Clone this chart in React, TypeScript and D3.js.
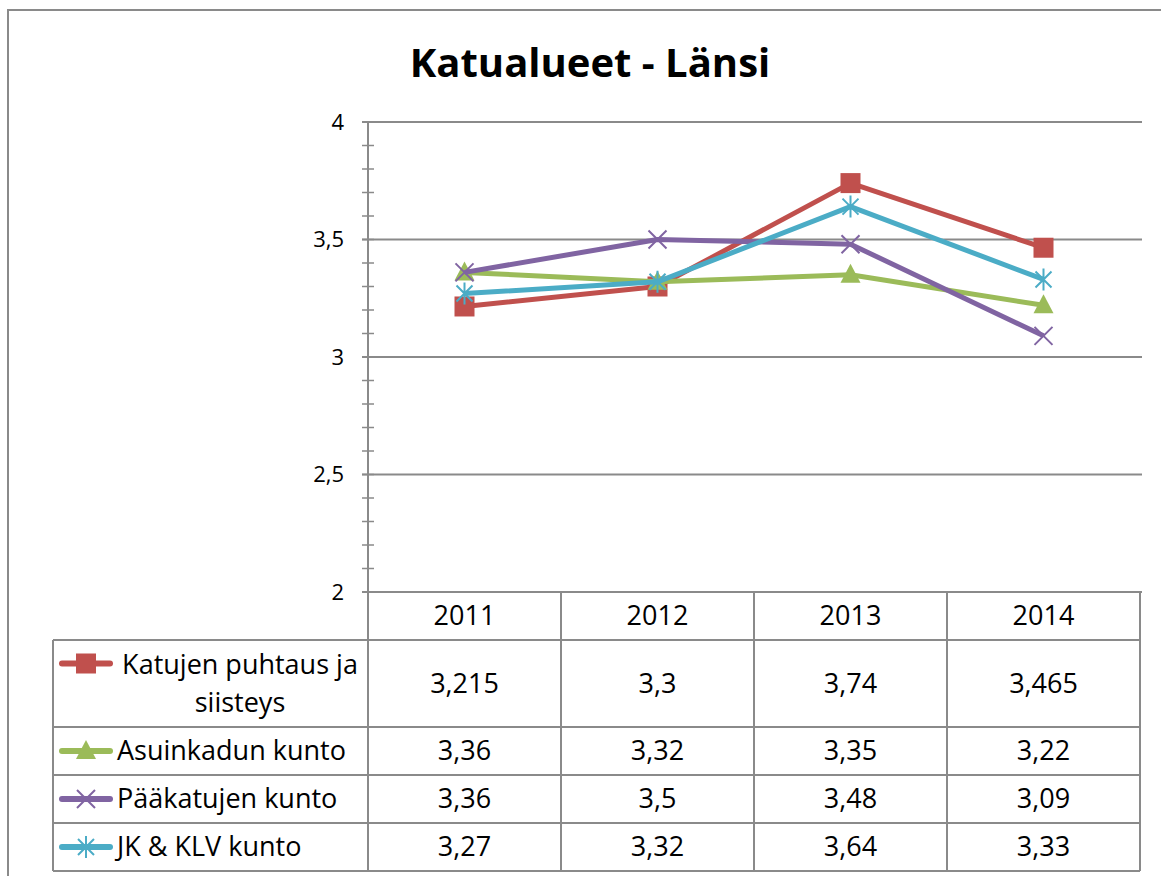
import * as d3 from 'd3';

const years = ['2011', '2012', '2013', '2014'];
const seriesNames = [['Katujen puhtaus ja', 'siisteys'], ['Asuinkadun kunto'], ['Pääkatujen kunto'], ['JK & KLV kunto']];
const puhtaus = [3.215, 3.3, 3.74, 3.465];
const asuinkadut = [3.36, 3.32, 3.35, 3.22];
const paakadut = [3.36, 3.5, 3.48, 3.09];
const jkKlv = [3.27, 3.32, 3.64, 3.33];
const yTicks = [2, 2.5, 3, 3.5, 4];

const colors = ['#C0504D', '#9BBB59', '#8064A2', '#4BACC6'];
const markers = ['square', 'triangle', 'x', 'star'];
const allSeries = [puhtaus, asuinkadut, paakadut, jkKlv];

const W = 1161, H = 876;
const plot = { left: 368, right: 1140, top: 122, bottom: 592 };
const tableLeft = 53;
const rowEdges = [592, 640, 727, 775, 823, 871];
const gridColor = '#8a8a8a';
const font = '"Open Sans", sans-serif';
const tableFont = 27;

const x = d3.scalePoint<string>().domain(years).range([plot.left, plot.right]).padding(0.5);
const y = d3.scaleLinear().domain([2, 4]).range([plot.bottom, plot.top]);
const bandW = (plot.right - plot.left) / years.length;

const fmt = (v: number) => String(v).replace('.', ',');

const Marker = ({ kind, cx, cy, color }: { kind: string; cx: number; cy: number; color: string }) => {
    if (kind === 'square') return <rect x={cx - 10} y={cy - 10} width={20} height={20} fill={color} />;
    if (kind === 'triangle') return <path d={`M${cx},${cy - 11}L${cx + 10},${cy + 8}L${cx - 10},${cy + 8}Z`} fill={color} />;
    if (kind === 'x') return <path d={`M${cx - 9},${cy - 9}L${cx + 9},${cy + 9}M${cx - 9},${cy + 9}L${cx + 9},${cy - 9}`} stroke={color} strokeWidth={2} />;
    return <path d={`M${cx - 8},${cy - 8}L${cx + 8},${cy + 8}M${cx - 8},${cy + 8}L${cx + 8},${cy - 8}M${cx},${cy - 11}L${cx},${cy + 11}`} stroke={color} strokeWidth={2} />;
};

const App = () => {
    const line = d3.line<number>().x((_, i) => x(years[i]) as number).y(d => y(d));
    const minor = d3.range(20, 41).map(v => v / 10);

    return (
        <svg width={W} height={H} style={{ position: 'absolute', left: 0, top: 0, background: '#fff' }} fontFamily={font}>
            {/* outer frame */}
            <path d={`M8,${H}L8,10L${W},10`} fill="none" stroke={gridColor} strokeWidth={2} />

            <text x={590} y={77} textAnchor="middle" fontSize={40} fontWeight="bold" fill="#000">Katualueet - Länsi</text>

            {/* gridlines */}
            {yTicks.map(t => (
                <line key={t} x1={plot.left - 6} x2={plot.right + 2} y1={y(t)} y2={y(t)} stroke={gridColor} strokeWidth={2} />
            ))}
            {minor.map(t => (
                <line key={'m' + t} x1={plot.left - 6} x2={plot.left + 6} y1={y(t)} y2={y(t)} stroke={gridColor} strokeWidth={1.5} />
            ))}
            <line x1={plot.left} x2={plot.left} y1={plot.top} y2={rowEdges[rowEdges.length - 1]} stroke={gridColor} strokeWidth={2} />
            {yTicks.map(t => (
                <text key={'l' + t} x={344} y={y(t)} dy="0.35em" textAnchor="end" fontSize={22}>{fmt(t)}</text>
            ))}

            {/* table */}
            {rowEdges.map((ry, i) => (
                <line key={'r' + i} x1={i === 0 ? plot.left : tableLeft} x2={plot.right} y1={ry} y2={ry} stroke={gridColor} strokeWidth={2} />
            ))}
            <line x1={tableLeft} x2={tableLeft} y1={rowEdges[1]} y2={rowEdges[5]} stroke={gridColor} strokeWidth={2} />
            {years.map((yr, i) => (
                <line key={'c' + yr} x1={plot.left + bandW * (i + 1)} x2={plot.left + bandW * (i + 1)} y1={rowEdges[0]} y2={rowEdges[5]} stroke={gridColor} strokeWidth={2} />
            ))}
            {years.map(yr => (
                <text key={'h' + yr} x={x(yr)} y={(rowEdges[0] + rowEdges[1]) / 2} dy="0.35em" textAnchor="middle" fontSize={tableFont}>{yr}</text>
            ))}
            {allSeries.map((vals, si) => {
                const cy = (rowEdges[si + 1] + rowEdges[si + 2]) / 2;
                const names = seriesNames[si];
                const keyY = cy - (names.length > 1 ? 20 : 0);
                return (
                    <g key={'row' + si}>
                        <line x1={62} x2={110} y1={keyY} y2={keyY} stroke={colors[si]} strokeWidth={6} strokeLinecap="round" />
                        <Marker kind={markers[si]} cx={86} cy={keyY} color={colors[si]} />
                        {names.map((n, k) => (
                            <text key={k} x={names.length > 1 ? 240 : 117} y={cy + (k - (names.length - 1) / 2) * 38} dy="0.35em"
                                textAnchor={names.length > 1 ? 'middle' : 'start'} fontSize={tableFont}>{n}</text>
                        ))}
                        {vals.map((v, i) => (
                            <text key={'v' + i} x={x(years[i])} y={cy} dy="0.35em" textAnchor="middle" fontSize={tableFont}>{fmt(v)}</text>
                        ))}
                    </g>
                );
            })}

            {/* series */}
            {allSeries.map((vals, si) => (
                <g key={'s' + si}>
                    <path d={line(vals) || ''} fill="none" stroke={colors[si]} strokeWidth={5} strokeLinejoin="round" />
                    {vals.map((v, i) => (
                        <Marker key={i} kind={markers[si]} cx={x(years[i]) as number} cy={y(v)} color={colors[si]} />
                    ))}
                </g>
            ))}
        </svg>
    );
};

export default App;
